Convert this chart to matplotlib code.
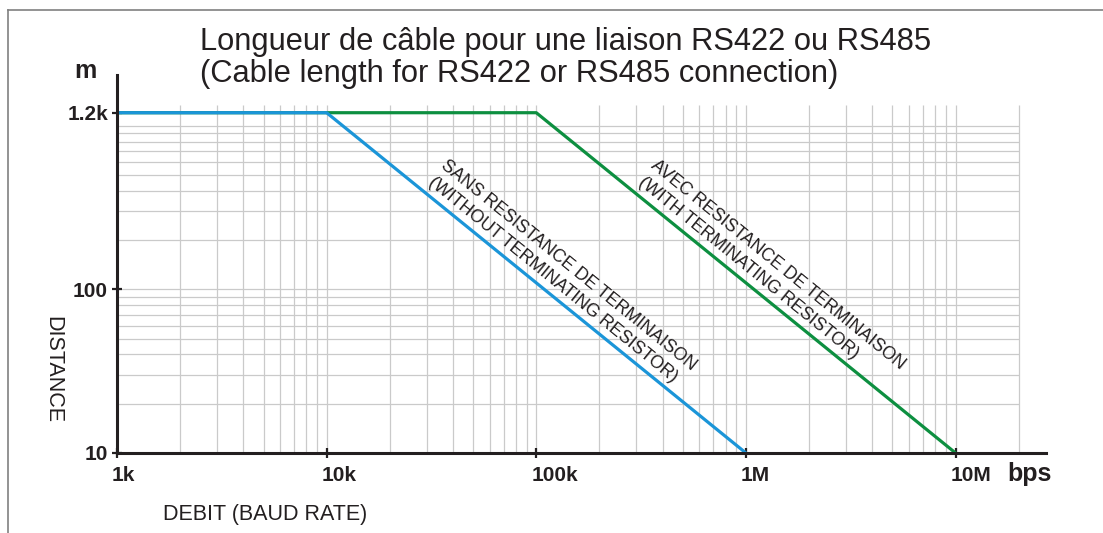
import matplotlib
matplotlib.use('Agg')
import matplotlib.pyplot as plt
import matplotlib.transforms as mtransforms
from matplotlib.lines import Line2D
from matplotlib.ticker import NullLocator
import numpy as np

plt.rcParams['font.family'] = ['Liberation Sans', 'DejaVu Sans']

# Données : débit (bps) et longueur de câble (m)
rates_without = [1e3, 1e4, 1e6]
length_without = [1200, 1200, 10]
rates_with = [1e3, 1e5, 1e7]
length_with = [1200, 1200, 10]

x_ticks = [1e3, 1e4, 1e5, 1e6, 1e7]
x_labels = ['1k', '10k', '100k', '1M', '10M']
y_ticks = [10, 100, 1200]
y_labels = ['10', '100', '1.2k']

DARK = '#231f20'
GRID = '#cacaca'
BLUE = '#1b95d8'
GREEN = '#0d8f40'

W, H = 1103, 533
fig = plt.figure(figsize=(W / 100, H / 100), dpi=100)
ax = fig.add_axes([117 / W, 1 - 453 / H, (1046 - 117) / W, (453 - 75) / H])
ax.set_xscale('log')
ax.set_yscale('log')
ax.set_xlim(1e3, 2.7e7)
ax.set_ylim(10, 2040)

# Grille (limitée comme sur l'original)
gx = np.outer(10.0 ** np.arange(3, 8), np.arange(1, 10)).ravel()
gx = gx[(gx > 1e3) & (gx <= 2e7)]
gy = np.outer(10.0 ** np.arange(1, 4), np.arange(1, 10)).ravel()
gy = gy[(gy > 10) & (gy <= 1000)]
ax.vlines(gx, 10, 1340, color=GRID, lw=0.9, zorder=0)
ax.hlines(gy, 1e3, 2e7, color=GRID, lw=0.9, zorder=0)

# Courbes
ax.plot(rates_with, length_with, color=GREEN, lw=2.3, zorder=2,
        solid_capstyle='butt')
ax.plot(rates_without, length_without, color=BLUE, lw=2.3, zorder=3,
        solid_capstyle='butt')

# Axes
for s in ['top', 'right']:
    ax.spines[s].set_visible(False)
for s in ['left', 'bottom']:
    ax.spines[s].set_linewidth(2.2)
    ax.spines[s].set_color(DARK)
    ax.spines[s].set_zorder(4)

ax.set_xticks(x_ticks)
ax.set_xticklabels(x_labels, fontsize=15, fontweight='bold', color=DARK)
ax.set_yticks(y_ticks)
ax.set_yticklabels(y_labels, fontsize=15, fontweight='bold', color=DARK)
ax.xaxis.set_minor_locator(NullLocator())
ax.yaxis.set_minor_locator(NullLocator())
ax.tick_params(which='major', direction='inout', length=7, width=1.6,
               color=DARK)
ax.tick_params(axis='x', pad=6)
ax.tick_params(axis='y', pad=3)

shift = mtransforms.ScaledTranslation(-5 / 100, 0, fig.dpi_scale_trans)
for lbl in ax.get_xticklabels():
    lbl.set_horizontalalignment('left')
    lbl.set_transform(lbl.get_transform() + shift)

# Angle des textes le long des droites
p = ax.transData.transform([(rates_without[1], length_without[1]),
                            (rates_without[2], length_without[2])])
angle = np.degrees(np.arctan2(p[1, 1] - p[0, 1], p[1, 0] - p[0, 0]))

ax.text(0.357, 0.782, 'SANS RESISTANCE DE TERMINAISON\n(WITHOUT TERMINATING RESISTOR)',
        transform=ax.transAxes, rotation=angle, rotation_mode='anchor',
        ha='left', va='top', multialignment='left', fontsize=12.8,
        color=DARK, linespacing=1.3)
ax.text(0.583, 0.782, 'AVEC RESISTANCE DE TERMINAISON\n(WITH TERMINATING RESISTOR)',
        transform=ax.transAxes, rotation=angle, rotation_mode='anchor',
        ha='left', va='top', multialignment='left', fontsize=12.8,
        color=DARK, linespacing=1.3)

# Titre et étiquettes
fig.text(200 / W, 1 - 50 / H, 'Longueur de câble pour une liaison RS422 ou RS485',
         fontsize=22.2, color=DARK, va='baseline')
fig.text(200 / W, 1 - 82 / H, '(Cable length for RS422 or RS485 connection)',
         fontsize=22.2, color=DARK, va='baseline')
fig.text(85 / W, 1 - 71 / H, 'm', fontsize=18, fontweight='bold', color=DARK,
         ha='center', va='center')
fig.text(1007 / W, 1 - 481 / H, 'bps', fontsize=18, fontweight='bold', color=DARK,
         ha='left', va='baseline')
fig.text(53 / W, 1 - 369 / H, 'DISTANCE', fontsize=15.5, color=DARK,
         rotation=-90, ha='center', va='center')
fig.text(163 / W, 1 - 520 / H, 'DEBIT (BAUD RATE)', fontsize=15.5, color=DARK,
         ha='left', va='baseline')

# Cadre
fig.add_artist(Line2D([8 / W, 8 / W], [0, 1 - 10 / H], transform=fig.transFigure,
                      color='#808080', lw=1.2))
fig.add_artist(Line2D([8 / W, 1], [1 - 10 / H, 1 - 10 / H], transform=fig.transFigure,
                      color='#808080', lw=1.2))

fig.savefig('out.png', dpi=100)
